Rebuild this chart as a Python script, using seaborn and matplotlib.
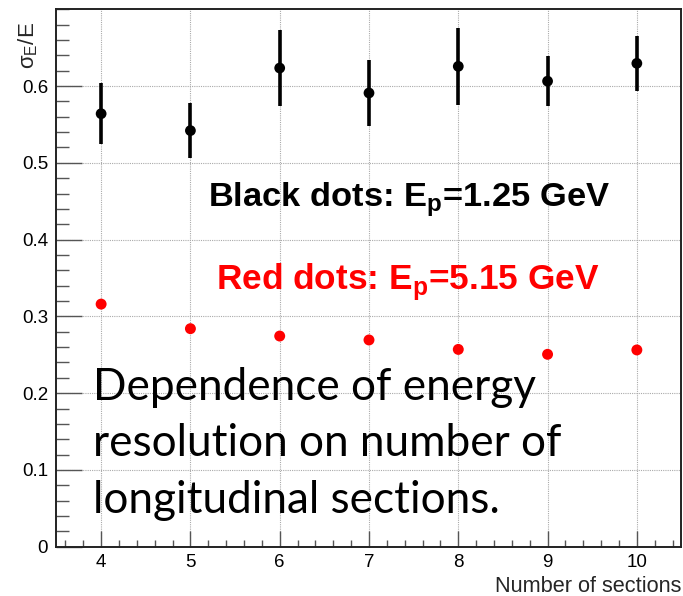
import matplotlib
matplotlib.use("Agg")
import matplotlib.pyplot as plt
from matplotlib.ticker import MultipleLocator, FixedLocator
import seaborn as sns
import pandas as pd

# ---- data ----
sections = [4, 5, 6, 7, 8, 9, 10]
black_res = [0.564, 0.542, 0.6235, 0.591, 0.6257, 0.6064, 0.6296]
black_err = [0.040, 0.036, 0.049, 0.043, 0.050, 0.033, 0.036]
red_res = [0.316, 0.284, 0.2744, 0.2693, 0.257, 0.2506, 0.2563]
y_ticks = [0.0, 0.1, 0.2, 0.3, 0.4, 0.5, 0.6]
y_tick_labels = ["0", "0.1", "0.2", "0.3", "0.4", "0.5", "0.6"]
x_ticks = [4, 5, 6, 7, 8, 9, 10]
black_label = r"Black dots: E$_\mathregular{p}$=1.25 GeV"
red_label = r"Red dots: E$_\mathregular{p}$=5.15 GeV"
note_lines = ["Dependence of energy", "resolution on number of", "longitudinal sections."]

df_black = pd.DataFrame({"n": sections, "res": black_res, "err": black_err})
df_red = pd.DataFrame({"n": sections, "res": red_res})

sns.set_theme(style="ticks")
plt.rcParams["font.family"] = ["Liberation Sans", "DejaVu Sans"]

fig = plt.figure(figsize=(6.83, 5.96), dpi=100)
ax = fig.add_axes([0.0827, 0.0827, 0.9151, 0.9017])

ax.errorbar(df_black["n"], df_black["res"], yerr=df_black["err"], fmt="none",
            ecolor="black", elinewidth=2.6, capsize=0, zorder=3)
sns.scatterplot(data=df_black, x="n", y="res", ax=ax, color="black", s=60,
                edgecolor="none", linewidth=0, zorder=4)
sns.scatterplot(data=df_red, x="n", y="res", ax=ax, color="#ff0000", s=62,
                edgecolor="none", linewidth=0, zorder=4)

ax.set_xlim(3.5, 10.5)
ax.set_ylim(0, 0.70)
ax.xaxis.set_major_locator(FixedLocator(x_ticks))
ax.xaxis.set_minor_locator(MultipleLocator(0.2))
ax.yaxis.set_major_locator(FixedLocator(y_ticks))
ax.set_yticklabels(y_tick_labels)
ax.yaxis.set_minor_locator(MultipleLocator(0.02))

ax.tick_params(axis="both", which="both", direction="in", colors="#555555",
               labelcolor="black", labelsize=13.5, width=1.0)
ax.tick_params(axis="y", which="major", length=18.5, pad=6)
ax.tick_params(axis="y", which="minor", length=9.5)
ax.tick_params(axis="x", which="major", length=11.5, pad=5)
ax.tick_params(axis="x", which="minor", length=5.4)

ax.grid(True, which="major", linestyle=(0, (1, 1)), color="#aaaaaa", linewidth=0.8)
ax.set_axisbelow(True)

for s in ax.spines.values():
    s.set_color("#222222")
    s.set_linewidth(1.4)

ax.set_xlabel("Number of sections", fontsize=15.7, loc="right")
ax.xaxis.set_label_coords(1.0, -0.054)
ax.set_ylabel("σ$_\\mathregular{E}$/E", fontsize=16, loc="top")
ax.yaxis.set_label_coords(-0.026, 0.977)

ax.text(5.195, 0.4436, black_label, fontsize=24.8, fontweight="bold",
        color="black", ha="left", va="baseline", family="Liberation Sans")
ax.text(5.29, 0.335, red_label, fontsize=25.4, fontweight="bold",
        color="#ff0000", ha="left", va="baseline", family="Liberation Sans")

baselines = [0.191, 0.118, 0.0445]
for line, yb in zip(note_lines, baselines):
    ax.text(3.91, yb, line, fontsize=31.8, color="black", ha="left",
            va="baseline", family="Lato")

fig.savefig("out.png", dpi=100)
